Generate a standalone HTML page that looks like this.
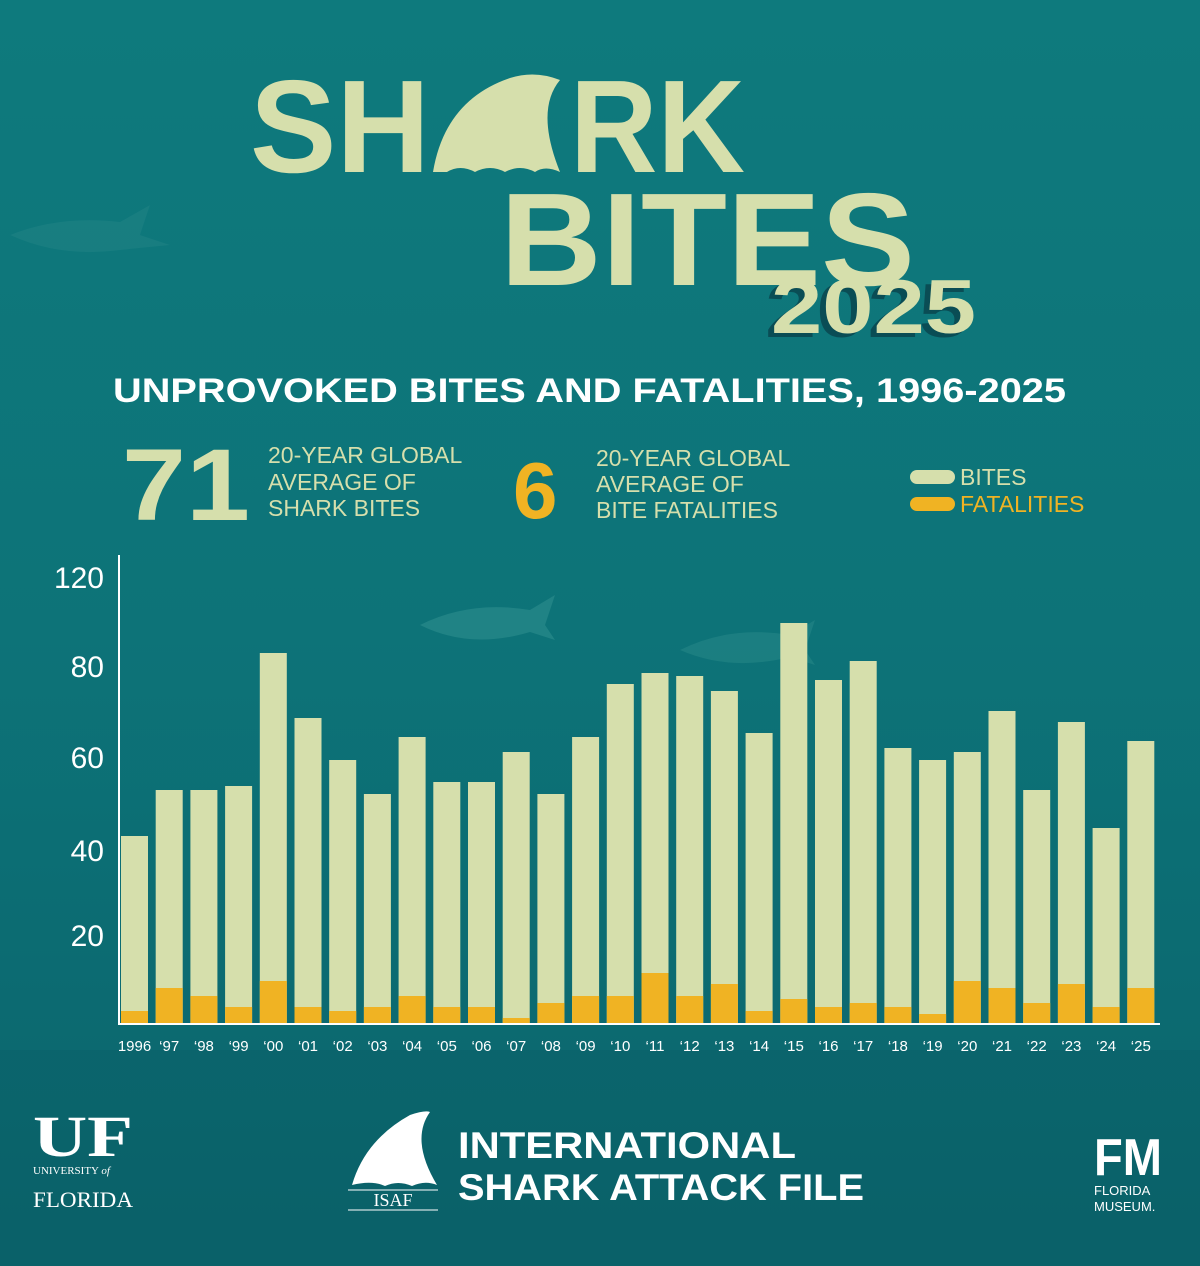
<!DOCTYPE html>
<html><head><meta charset="utf-8"><style>
html,body{margin:0;padding:0;background:#0c6f75}
svg{display:block}
text{font-family:"Liberation Sans",sans-serif}
</style></head><body>
<svg width="1200" height="1266" viewBox="0 0 1200 1266" xmlns="http://www.w3.org/2000/svg">
<defs>
<linearGradient id="bg" x1="0" y1="0" x2="0" y2="1">
<stop offset="0" stop-color="#0e7a7d"/><stop offset="0.5" stop-color="#0d7378"/><stop offset="1" stop-color="#0b646c"/>
</linearGradient>
</defs>
<rect width="1200" height="1266" fill="url(#bg)"/>
<rect x="0" y="1050" width="1200" height="216" fill="#095860" opacity="0.25"/>
<!-- faint sharks -->
<path d="M420 625 Q470 600 530 610 L555 595 L545 625 L555 640 L530 632 Q470 650 420 625Z" fill="#2a8a8a" opacity="0.7"/>
<path d="M680 650 Q730 625 790 635 L815 620 L805 650 L815 665 L790 657 Q730 672 680 650Z" fill="#2a8a8a" opacity="0.5"/>
<path d="M10 235 Q60 215 120 222 L150 205 L140 235 L170 245 L120 250 Q60 258 10 235Z" fill="#2a8a8a" opacity="0.35"/>
<!-- title -->
<g fill="#d6dfac" font-weight="bold">
<text x="250" y="172" font-size="132" textLength="180" lengthAdjust="spacingAndGlyphs">SH</text>
<path d="M433 172 Q445 100 510 78 Q535 70 560 80 Q535 110 560 172 Q545 165 535 172 Q520 164 505 172 Q490 164 475 172 Q460 164 447 172Z"/>
<text x="570" y="172" font-size="132" textLength="175" lengthAdjust="spacingAndGlyphs">RK</text>
<text x="500" y="285" font-size="132" textLength="415" lengthAdjust="spacingAndGlyphs">BITES</text>
<text x="765" y="337" font-size="76" fill="#0a4d55" textLength="205" lengthAdjust="spacingAndGlyphs">2025</text>
<text x="771" y="333" font-size="76" textLength="205" lengthAdjust="spacingAndGlyphs">2025</text>
</g>
<text x="113" y="402" font-size="34" font-weight="bold" fill="#fff" textLength="953" lengthAdjust="spacingAndGlyphs">UNPROVOKED BITES AND FATALITIES, 1996-2025</text>
<text x="122" y="520" font-size="102" font-weight="bold" fill="#d6dfac" textLength="128" lengthAdjust="spacingAndGlyphs">71</text>
<g font-size="23" fill="#d6dfac">
<text x="268" y="463">20-YEAR GLOBAL</text><text x="268" y="490">AVERAGE OF</text><text x="268" y="516">SHARK BITES</text>
</g>
<text x="513" y="518" font-size="80" font-weight="bold" fill="#f0b323">6</text>
<g font-size="23" fill="#d6dfac">
<text x="596" y="466">20-YEAR GLOBAL</text><text x="596" y="492">AVERAGE OF</text><text x="596" y="518">BITE FATALITIES</text>
</g>
<rect x="910" y="470" width="45" height="14" rx="7" fill="#d6dfac"/>
<text x="960" y="485" font-size="23" fill="#d6dfac">BITES</text>
<rect x="910" y="497" width="45" height="14" rx="7" fill="#f0b323"/>
<text x="960" y="512" font-size="23" fill="#f0b323">FATALITIES</text>
<line x1="119" y1="555" x2="119" y2="1025" stroke="#fff" stroke-width="2"/>
<line x1="119" y1="1024" x2="1160" y2="1024" stroke="#fff" stroke-width="2"/>
<g font-size="30" fill="#fff" text-anchor="end">
<text x="104" y="588">120</text><text x="104" y="677">80</text><text x="104" y="768">60</text><text x="104" y="861">40</text><text x="104" y="946">20</text>
</g>
<g id="bars"></g>
<g id="labels" font-size="15" fill="#fff" text-anchor="middle"></g>
<text x="33" y="1156" font-size="58" font-weight="bold" fill="#fff" textLength="100" lengthAdjust="spacingAndGlyphs" style="font-family:'Liberation Serif',serif">UF</text>
<text x="33" y="1174" font-size="11" fill="#fff" style="font-family:'Liberation Serif',serif">UNIVERSITY <tspan font-style="italic">of</tspan></text>
<text x="33" y="1207" font-size="22" fill="#fff" style="font-family:'Liberation Serif',serif" textLength="100" lengthAdjust="spacingAndGlyphs">FLORIDA</text>
<path d="M352 1185 Q365 1140 410 1115 Q425 1110 430 1112 Q410 1140 437 1185 Q425 1180 412 1186 Q398 1180 385 1186 Q372 1180 352 1185Z" fill="#fff"/>
<line x1="348" y1="1190" x2="438" y2="1190" stroke="#fff"/>
<text x="393" y="1206" font-size="18" fill="#fff" text-anchor="middle" style="font-family:'Liberation Serif',serif">ISAF</text>
<line x1="348" y1="1210" x2="438" y2="1210" stroke="#fff"/>
<text x="458" y="1158" font-size="37" font-weight="bold" fill="#fff" textLength="338" lengthAdjust="spacingAndGlyphs">INTERNATIONAL</text>
<text x="458" y="1200" font-size="37" font-weight="bold" fill="#fff" textLength="406" lengthAdjust="spacingAndGlyphs">SHARK ATTACK FILE</text>
<text x="1094" y="1175" font-size="52" font-weight="bold" fill="#fff" textLength="68" lengthAdjust="spacingAndGlyphs">FM</text>
<text x="1094" y="1195" font-size="13" fill="#fff">FLORIDA</text>
<text x="1094" y="1211" font-size="13" fill="#fff">MUSEUM.</text>
</svg>
<script>
var tops=[836,790,790,786,653,718,760,794,737,782,782,752,794,737,684,673,676,691,733,623,680,661,748,760,752,711,790,722,828,741];
var ft=[1011,988,996,1007,981,1007,1011,1007,996,1007,1007,1018,1003,996,996,973,996,984,1011,999,1007,1003,1007,1014,981,988,1003,984,1007,988];
var ns="http://www.w3.org/2000/svg",b=document.getElementById('bars'),l=document.getElementById('labels');
for(var i=0;i<30;i++){var x=121+i*34.7;
var r=document.createElementNS(ns,'rect');r.setAttribute('x',x);r.setAttribute('y',tops[i]);r.setAttribute('width',27);r.setAttribute('height',1023-tops[i]);r.setAttribute('fill','#d6dfac');b.appendChild(r);
var f=document.createElementNS(ns,'rect');f.setAttribute('x',x);f.setAttribute('y',ft[i]);f.setAttribute('width',27);f.setAttribute('height',1023-ft[i]);f.setAttribute('fill','#f0b323');b.appendChild(f);
var t=document.createElementNS(ns,'text');t.setAttribute('x',x+13.5);t.setAttribute('y',1051);
var y=1996+i;t.textContent=i==0?'1996':'\u2018'+String(y).slice(2);l.appendChild(t);}
</script>
</body></html>
